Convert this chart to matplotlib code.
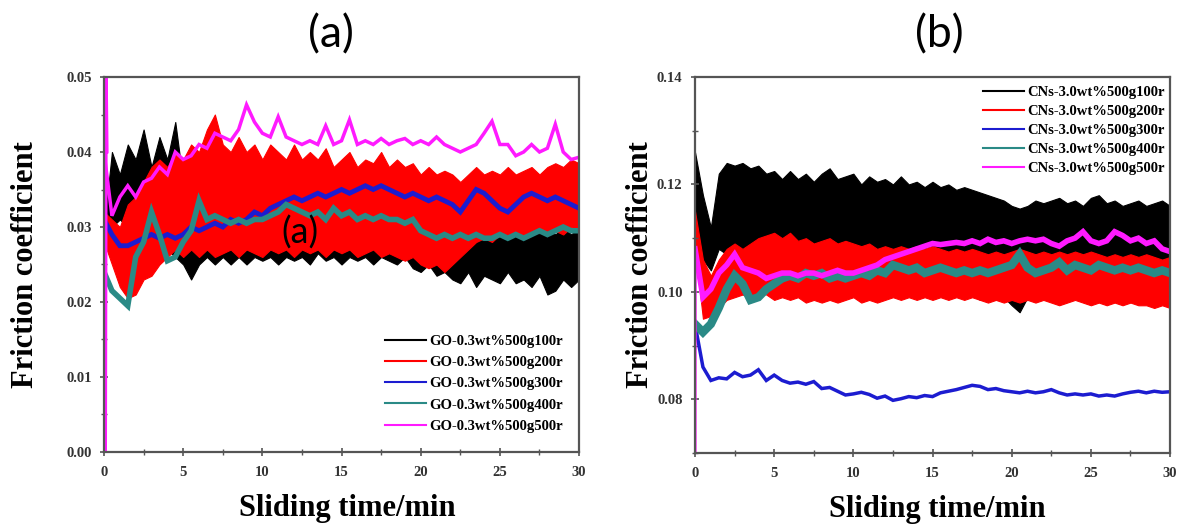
import matplotlib
matplotlib.use('Agg')
import matplotlib.pyplot as plt
from matplotlib.lines import Line2D
from matplotlib.ticker import MultipleLocator, FormatStrFormatter
import numpy as np

# Czas pomiaru (min), odczyt co 0.5 min
TIME = np.arange(0, 30.01, 0.5)

# ---- (a) GO-0.3wt% : obwiednie pasm (górna / dolna) i linie ----
A_BLACK_HI = [0.030, 0.040, 0.037, 0.041, 0.039, 0.043, 0.038, 0.042, 0.039, 0.044,
              0.036, 0.034, 0.033, 0.031, 0.032, 0.030, 0.031, 0.030, 0.031, 0.030,
              0.031, 0.030, 0.031, 0.030, 0.032, 0.030, 0.031, 0.030, 0.033, 0.031,
              0.036, 0.031, 0.034, 0.030, 0.032, 0.031, 0.030, 0.033, 0.030, 0.031,
              0.030, 0.029, 0.030, 0.029, 0.030, 0.029, 0.030, 0.029, 0.031, 0.029,
              0.030, 0.029, 0.031, 0.030, 0.032, 0.029, 0.030, 0.029, 0.030, 0.029,
              0.030]
A_BLACK_LO = [0.026, 0.030, 0.031, 0.030, 0.031, 0.030, 0.029, 0.028, 0.027, 0.026,
              0.025, 0.023, 0.025, 0.026, 0.025, 0.026, 0.025, 0.026, 0.025, 0.026,
              0.0255, 0.026, 0.025, 0.026, 0.0255, 0.026, 0.025, 0.0265, 0.0255, 0.026,
              0.025, 0.026, 0.0255, 0.026, 0.025, 0.026, 0.0255, 0.025, 0.026, 0.0245,
              0.024, 0.025, 0.0235, 0.024, 0.023, 0.0225, 0.024, 0.022, 0.0235, 0.023,
              0.0225, 0.024, 0.0225, 0.023, 0.022, 0.0235, 0.021, 0.0215, 0.023, 0.022,
              0.023]
A_RED_HI = [0.032, 0.031, 0.030, 0.033, 0.034, 0.036, 0.038, 0.039, 0.038, 0.040,
            0.039, 0.041, 0.040, 0.043, 0.045, 0.041, 0.040, 0.042, 0.040, 0.041,
            0.039, 0.041, 0.040, 0.039, 0.041, 0.039, 0.040, 0.039, 0.0405, 0.038,
            0.039, 0.040, 0.038, 0.039, 0.0385, 0.040, 0.038, 0.039, 0.038, 0.0385,
            0.037, 0.038, 0.037, 0.0375, 0.037, 0.036, 0.037, 0.038, 0.037, 0.0375,
            0.037, 0.038, 0.037, 0.0375, 0.038, 0.037, 0.038, 0.0385, 0.038, 0.039,
            0.0385]
A_RED_LO = [0.028, 0.025, 0.022, 0.0205, 0.021, 0.023, 0.0235, 0.025, 0.026, 0.027,
            0.026, 0.027, 0.026, 0.027, 0.026, 0.0265, 0.027, 0.026, 0.027, 0.0265,
            0.026, 0.027, 0.0265, 0.027, 0.026, 0.027, 0.0265, 0.027, 0.026, 0.027,
            0.0265, 0.027, 0.026, 0.0265, 0.027, 0.026, 0.0265, 0.026, 0.0255, 0.026,
            0.025, 0.0245, 0.025, 0.024, 0.025, 0.026, 0.027, 0.028, 0.0285, 0.028,
            0.029, 0.0285, 0.029, 0.0285, 0.029, 0.0295, 0.029, 0.0295, 0.029, 0.030,
            0.0295]
A_BLUE = [0.031, 0.029, 0.0275, 0.0275, 0.028, 0.0285, 0.029, 0.0285, 0.029, 0.0285,
          0.029, 0.030, 0.0295, 0.030, 0.0305, 0.030, 0.031, 0.0305, 0.031, 0.032,
          0.0315, 0.0325, 0.033, 0.0335, 0.034, 0.0335, 0.034, 0.0345, 0.034, 0.0345,
          0.035, 0.0345, 0.035, 0.0355, 0.035, 0.0355, 0.035, 0.0345, 0.034, 0.0345,
          0.034, 0.0335, 0.034, 0.0335, 0.033, 0.032, 0.0335, 0.035, 0.0345, 0.0335,
          0.0325, 0.032, 0.033, 0.034, 0.0345, 0.034, 0.0335, 0.034, 0.0335, 0.033,
          0.0325]
A_TEAL = [0.024, 0.0215, 0.0205, 0.0195, 0.026, 0.028, 0.032, 0.029, 0.0255, 0.026,
          0.028, 0.0295, 0.0335, 0.031, 0.0315, 0.031, 0.0305, 0.031, 0.0305, 0.031,
          0.031, 0.0315, 0.032, 0.033, 0.0325, 0.032, 0.0315, 0.032, 0.031, 0.0325,
          0.0315, 0.032, 0.031, 0.0315, 0.031, 0.0315, 0.031, 0.031, 0.0305, 0.031,
          0.0295, 0.029, 0.0285, 0.029, 0.0285, 0.029, 0.0285, 0.029, 0.0285, 0.0285,
          0.029, 0.0285, 0.029, 0.0285, 0.029, 0.0295, 0.029, 0.0295, 0.030, 0.0295,
          0.0295]
A_MAGENTA = [0.040, 0.0315, 0.034, 0.0355, 0.034, 0.036, 0.0365, 0.038, 0.037, 0.040,
             0.039, 0.0395, 0.041, 0.0405, 0.0425, 0.042, 0.0415, 0.043, 0.0463, 0.044,
             0.0425, 0.042, 0.0447, 0.042, 0.0415, 0.041, 0.0415, 0.041, 0.0435, 0.041,
             0.0415, 0.0443, 0.041, 0.0415, 0.041, 0.0418, 0.041, 0.0415, 0.0418, 0.041,
             0.0415, 0.041, 0.042, 0.041, 0.0405, 0.040, 0.0405, 0.041, 0.0425, 0.0441,
             0.041, 0.041, 0.0395, 0.040, 0.041, 0.040, 0.0405, 0.0437, 0.040, 0.039,
             0.0393]
# skok na starcie (magenta)
A_SPIKE_T = [0.10, 0.15, 0.20]
A_SPIKE = [0.0, 0.050, 0.040]

# ---- (b) CNs-3.0wt% ----
B_BLACK_HI = [0.126, 0.118, 0.112, 0.122, 0.124, 0.1235, 0.124, 0.123, 0.1235, 0.122,
              0.1225, 0.121, 0.1225, 0.121, 0.122, 0.1205, 0.122, 0.123, 0.121, 0.1215,
              0.122, 0.120, 0.1215, 0.1205, 0.121, 0.120, 0.1215, 0.120, 0.1205, 0.1195,
              0.1205, 0.1195, 0.120, 0.119, 0.1195, 0.119, 0.1185, 0.118, 0.1175, 0.117,
              0.116, 0.1155, 0.116, 0.117, 0.1165, 0.117, 0.1175, 0.1165, 0.117, 0.116,
              0.1175, 0.118, 0.1165, 0.117, 0.116, 0.1165, 0.117, 0.116, 0.1165, 0.117,
              0.116]
B_BLACK_LO = [0.112, 0.106, 0.104, 0.108, 0.107, 0.101, 0.100, 0.1005, 0.100, 0.101,
              0.100, 0.1005, 0.100, 0.101, 0.100, 0.1005, 0.100, 0.101, 0.1005, 0.100,
              0.1005, 0.100, 0.101, 0.100, 0.0995, 0.100, 0.0995, 0.100, 0.0995, 0.100,
              0.0995, 0.100, 0.099, 0.0995, 0.099, 0.0995, 0.0985, 0.099, 0.0985, 0.099,
              0.0975, 0.0962, 0.099, 0.0985, 0.099, 0.0985, 0.099, 0.0985, 0.099, 0.0985,
              0.099, 0.0985, 0.099, 0.0985, 0.099, 0.0985, 0.099, 0.0985, 0.099, 0.0985,
              0.099]
B_RED_HI = [0.115, 0.106, 0.103, 0.106, 0.108, 0.109, 0.108, 0.109, 0.110, 0.1105,
            0.111, 0.110, 0.111, 0.1095, 0.110, 0.109, 0.1095, 0.110, 0.109, 0.1095,
            0.109, 0.1085, 0.109, 0.108, 0.1085, 0.108, 0.1085, 0.108, 0.1085, 0.108,
            0.1085, 0.108, 0.1075, 0.108, 0.1075, 0.108, 0.1075, 0.107, 0.1075, 0.107,
            0.1075, 0.108, 0.1075, 0.107, 0.1075, 0.107, 0.1075, 0.107, 0.1075, 0.107,
            0.1075, 0.107, 0.1065, 0.107, 0.1065, 0.107, 0.1065, 0.107, 0.1065, 0.106,
            0.1065]
B_RED_LO = [0.108, 0.095, 0.0955, 0.097, 0.0985, 0.099, 0.0995, 0.099, 0.100, 0.0995,
            0.0985, 0.099, 0.0985, 0.099, 0.098, 0.0985, 0.098, 0.0985, 0.098, 0.0985,
            0.099, 0.098, 0.0985, 0.098, 0.0985, 0.099, 0.0985, 0.099, 0.0985, 0.099,
            0.0985, 0.099, 0.0985, 0.099, 0.0985, 0.099, 0.0985, 0.098, 0.0985, 0.098,
            0.0985, 0.098, 0.0985, 0.098, 0.0985, 0.098, 0.0975, 0.098, 0.0985, 0.098,
            0.0975, 0.098, 0.0975, 0.098, 0.0975, 0.098, 0.0975, 0.0975, 0.097, 0.0975,
            0.097]
B_BLUE = [0.094, 0.086, 0.0835, 0.084, 0.0838, 0.085, 0.0842, 0.0845, 0.0855, 0.0835,
          0.0845, 0.0835, 0.083, 0.0832, 0.0828, 0.0833, 0.082, 0.0822, 0.0815, 0.0808,
          0.081, 0.0813, 0.0809, 0.0802, 0.0806, 0.0798, 0.0801, 0.0805, 0.0803, 0.0807,
          0.0805, 0.0812, 0.0815, 0.0818, 0.0822, 0.0826, 0.0824, 0.0818, 0.082, 0.0816,
          0.0814, 0.0812, 0.0815, 0.0812, 0.0814, 0.0818, 0.0812, 0.0808, 0.081, 0.0808,
          0.081, 0.0806, 0.0808, 0.0806, 0.081, 0.0813, 0.0815, 0.0812, 0.0815, 0.0813,
          0.0814]
B_TEAL = [0.094, 0.0925, 0.094, 0.097, 0.1005, 0.103, 0.1015, 0.0985, 0.099, 0.1005,
          0.1015, 0.1025, 0.103, 0.1025, 0.1035, 0.103, 0.1035, 0.1025, 0.103, 0.1025,
          0.103, 0.1035, 0.103, 0.104, 0.1035, 0.105, 0.1045, 0.104, 0.1045, 0.1035,
          0.104, 0.1045, 0.104, 0.1035, 0.104, 0.1035, 0.104, 0.1035, 0.104, 0.1045,
          0.105, 0.107, 0.1045, 0.1035, 0.104, 0.1045, 0.1055, 0.104, 0.105, 0.1045,
          0.104, 0.105, 0.1045, 0.104, 0.1045, 0.104, 0.1045, 0.104, 0.1035, 0.104,
          0.1035]
B_MAGENTA = [0.108, 0.099, 0.1005, 0.1035, 0.105, 0.107, 0.1045, 0.104, 0.1035, 0.1025,
             0.103, 0.1035, 0.1035, 0.103, 0.1035, 0.1035, 0.103, 0.1035, 0.104, 0.1035,
             0.1035, 0.104, 0.1045, 0.105, 0.106, 0.1065, 0.107, 0.1075, 0.108, 0.1085,
             0.109, 0.1088, 0.109, 0.1092, 0.109, 0.1095, 0.109, 0.1098, 0.1092, 0.1095,
             0.109, 0.1095, 0.1098, 0.1095, 0.1098, 0.109, 0.1085, 0.1095, 0.110, 0.1112,
             0.1095, 0.109, 0.1095, 0.1112, 0.1105, 0.1095, 0.110, 0.109, 0.1095, 0.108,
             0.1075]
B_SPIKE_T = [0.0, 0.02]
B_SPIKE = [0.0, 0.108]

LABELS_A = ['GO-0.3wt%500g100r', 'GO-0.3wt%500g200r', 'GO-0.3wt%500g300r',
            'GO-0.3wt%500g400r', 'GO-0.3wt%500g500r']
LABELS_B = ['CNs-3.0wt%500g100r', 'CNs-3.0wt%500g200r', 'CNs-3.0wt%500g300r',
            'CNs-3.0wt%500g400r', 'CNs-3.0wt%500g500r']

COLORS = ['#000000', '#ff0000', '#1c1cd0', '#2a8a86', '#ff1aff']
SERIF = ['Liberation Serif', 'DejaVu Serif']


def style_axes(ax, ylim, ymajor, yminor, yfmt):
    ax.set_xlim(0, 30)
    ax.set_ylim(*ylim)
    ax.xaxis.set_major_locator(MultipleLocator(5))
    ax.xaxis.set_minor_locator(MultipleLocator(2.5))
    ax.yaxis.set_major_locator(MultipleLocator(ymajor))
    ax.yaxis.set_minor_locator(MultipleLocator(yminor))
    ax.yaxis.set_major_formatter(FormatStrFormatter(yfmt))
    for sp in ax.spines.values():
        sp.set_color('#555555')
        sp.set_linewidth(1.6)
    ax.tick_params(which='major', direction='inout', length=6, width=1.2, color='#555555',
                   labelsize=10.5, labelcolor='#333333', pad=6)
    ax.tick_params(axis='x', which='major', pad=7)
    ax.tick_params(which='minor', direction='inout', length=4, width=1.0, color='#555555')
    for lab in ax.get_xticklabels() + ax.get_yticklabels():
        lab.set_fontfamily(SERIF)
        lab.set_fontweight('bold')
    ax.set_xlabel('Sliding time/min', fontsize=22, fontweight='bold', family=SERIF)
    ax.set_ylabel('Friction coefficient', fontsize=22, fontweight='bold', family=SERIF)
    ax.yaxis.label.set_va('center')


def draw_panel(ax, bands, lines, widths, spike_t, spike):
    # pasma (czarne, czerwone) - gęste oscylacje
    for (lo, hi), c in zip(bands, COLORS[:2]):
        ax.fill_between(TIME, lo, hi, color=c, lw=0.8, edgecolor=c)
    # linie (niebieska, turkusowa, magenta)
    for vals, c, w in zip(lines, COLORS[2:], widths):
        ax.plot(TIME, vals, color=c, lw=w, solid_joinstyle='miter')
    ax.plot(spike_t, spike, color=COLORS[4], lw=2)


fig = plt.figure(figsize=(11.82, 5.30), dpi=100)
ax_a = fig.add_axes([0.088, 0.1472, 0.4019, 0.7075])
ax_b = fig.add_axes([0.588, 0.1453, 0.4019, 0.7094])

draw_panel(ax_a, [(A_BLACK_LO, A_BLACK_HI), (A_RED_LO, A_RED_HI)],
           [A_BLUE, A_TEAL, A_MAGENTA], [3.5, 4, 2.5], A_SPIKE_T, A_SPIKE)
draw_panel(ax_b, [(B_BLACK_LO, B_BLACK_HI), (B_RED_LO, B_RED_HI)],
           [B_BLUE, B_TEAL, B_MAGENTA], [2.5, 6, 4], B_SPIKE_T, B_SPIKE)

style_axes(ax_a, (0, 0.05), 0.01, 0.005, '%.2f')
style_axes(ax_b, (0.07, 0.14), 0.02, 0.01, '%.2f')
ax_b.set_yticks([0.08, 0.10, 0.12, 0.14])
for lab in ax_b.get_yticklabels():
    lab.set_fontfamily(SERIF)
    lab.set_fontweight('bold')

ax_a.yaxis.set_label_coords(-0.166, 0.5)
ax_b.yaxis.set_label_coords(-0.114, 0.5)
ax_a.xaxis.set_label_coords(0.512, -0.112)
ax_b.xaxis.set_label_coords(0.509, -0.112)

# legendy
for ax, labels, anchor, spacing in [(ax_a, LABELS_A, (0.966, 0.313), 0.55),
                                    (ax_b, LABELS_B, (0.989, 0.977), 0.4)]:
    handles = [Line2D([], [], color=c, lw=1.5) for c in COLORS]
    ax.legend(handles, labels, loc='upper right', bbox_to_anchor=anchor, frameon=False,
              prop={'family': SERIF, 'weight': 'bold', 'size': 10.5},
              handlelength=2.8, handletextpad=0.25, labelspacing=spacing, borderpad=0,
              borderaxespad=0)

# napis "(a)" w środku wykresu (jak w oryginale)
ax_a.text(12.4, 0.0293, '(a)', fontsize=26, ha='center', va='center', family='Lato')

# tytuły paneli
fig.text(0.280, 0.935, '(a)', fontsize=32, ha='center', va='center', family='Lato')
fig.text(0.795, 0.935, '(b)', fontsize=32, ha='center', va='center', family='Lato')

fig.savefig('out.png', dpi=100)
